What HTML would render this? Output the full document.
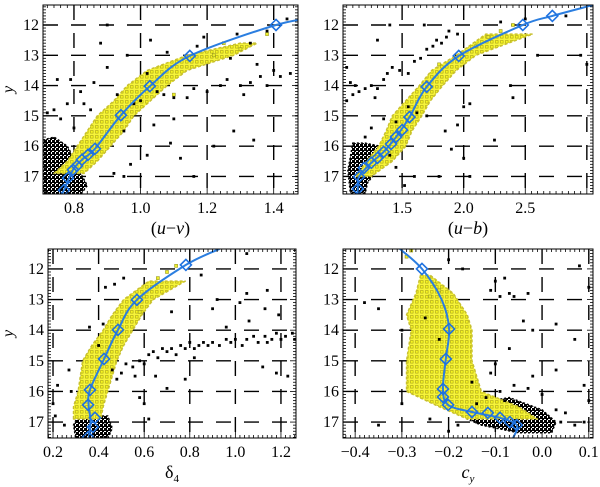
<!DOCTYPE html>
<html><head><meta charset="utf-8"><style>
html,body{margin:0;padding:0;background:#fff;}
svg{display:block;}
text{font-family:"Liberation Serif",serif;}
</style></head><body>
<svg id="chart" width="600" height="487" viewBox="0 0 600 487" xmlns="http://www.w3.org/2000/svg">
<defs>
<pattern id="yelPat" width="5" height="5" patternUnits="userSpaceOnUse">
<rect x="0" y="0" width="5" height="5" fill="#f6f43a"/>
<rect x="0.5" y="0.5" width="2.6" height="2.6" fill="#f8f820" stroke="#a8a018" stroke-width="0.6"/>
</pattern>
<pattern id="blkPat" width="4" height="4" patternUnits="userSpaceOnUse">
<rect x="0" y="0" width="4" height="4" fill="#fff"/>
<rect x="0" y="0" width="3" height="3" fill="#000"/>
<rect x="2" y="2" width="2.2" height="2.2" fill="#000"/>
</pattern>
</defs>
</svg>
<script>
// ---------- DATA ----------
// Panel 1: (u-v)
const p1DiamondX=[1.407,1.148,1.028,0.941,0.863,0.842,0.824,0.809,0.797,0.782,0.770];
const p1DiamondY=[12.0,13.02,14.02,14.98,16.09,16.29,16.45,16.65,16.78,17.05,17.45];
const p1CurveX=[1.53,1.407,1.148,1.028,0.941,0.863,0.824,0.797,0.770,0.762];
const p1CurveY=[11.75,12.0,13.02,14.02,14.98,16.09,16.45,16.78,17.45,17.6];
const p1BandM=[16.9,16.5,16,15.5,15,14.5,14,13.5,13,12.6];
const p1BandL=[0.74,0.78,0.81,0.84,0.87,0.92,0.96,1.02,1.14,1.30];
const p1BandR=[0.83,0.87,0.91,0.95,0.98,1.03,1.08,1.14,1.28,1.35];
const p1BlobX=[0.707,0.74,0.78,0.80,0.82,0.84,0.82,0.707];
const p1BlobY=[15.8,15.7,16.0,16.4,16.9,17.3,17.6,17.6];
const p1BlackX=[0.75,0.79,0.85,0.83,0.78,0.72,0.74,0.88,0.90,0.96,0.90,0.86,0.93,0.98,1.00,1.05,1.07,1.10,1.14,1.16,1.20,1.24,1.26,1.30,1.33,1.36,1.38,1.42,1.45,1.48,1.50,1.40,1.35,1.27,1.28,1.34,1.12,1.16,1.09,1.04,1.02,0.95,0.97,1.17,1.19,1.08,1.02,1.03,1.44,1.38,1.33,1.29,0.82,0.76,0.80,0.92,1.22,1.10,0.95,1.31];
const p1BlackY=[13.8,13.8,14.8,14.6,14.6,14.9,14.8,12.6,12.0,13.0,13.4,13.9,14.3,14.6,14.5,14.2,14.3,14.4,14.4,14.1,14.2,14.0,13.8,14.0,13.9,13.7,14.0,13.7,13.6,13.7,13.5,13.5,13.3,13.1,15.5,15.8,16.4,17.0,15.9,15.3,16.3,17.0,16.6,12.7,12.4,12.9,13.6,12.5,11.8,12.2,12.6,12.3,14.2,15.1,15.4,16.9,16.0,15.1,15.5,14.3];
const p1YellowX=[1.38,1.48,1.25,1.22,1.30,1.10];
const p1YellowY=[12.3,12.0,12.6,13.0,12.8,14.3];

// Panel 2: (u-b)
const p2DiamondX=[2.72,2.48,1.96,1.70,1.56,1.50,1.45,1.41,1.35,1.30,1.25,1.19,1.15,1.14];
const p2DiamondY=[11.70,12.0,13.02,14.04,15.04,15.47,15.70,15.93,16.19,16.39,16.55,16.72,17.01,17.41];
const p2CurveX=[3.06,2.72,2.48,1.96,1.70,1.56,1.45,1.35,1.25,1.15,1.14,1.14];
const p2CurveY=[11.33,11.70,12.0,13.02,14.04,15.04,15.70,16.19,16.55,17.01,17.41,17.6];
const p2BandM=[17,16.5,16,15.5,15,14.5,14,13.5,13,12.3];
const p2BandL=[1.13,1.21,1.31,1.37,1.42,1.53,1.64,1.74,1.94,2.18];
const p2BandR=[1.25,1.42,1.53,1.58,1.66,1.73,1.83,1.94,2.10,2.56];
const p2BlobX=[1.10,1.20,1.32,1.38,1.30,1.22,1.20,1.08,1.06];
const p2BlobY=[15.9,15.9,16.0,16.4,16.8,17.2,17.55,17.55,16.8];
const p2BlackX=[1.05,1.08,1.12,1.05,1.10,1.15,1.2,1.25,1.3,1.28,1.35,1.38,1.42,1.48,1.55,1.6,1.65,1.7,1.75,1.78,1.82,1.86,1.88,1.95,1.4,1.3,1.68,2.3,2.5,2.83,2.6,2.95,3.0,2.38,2.4,2.0,2.05,1.95,1.85,1.7,1.55,1.62,1.45,1.35,1.9,2.0,2.25,2.05,1.52,1.6,1.45,1.8,1.4,1.25,1.2];
const p2BlackY=[13.4,13.9,14.0,14.5,14.3,14.2,14.1,14.0,14.1,14.4,13.8,13.6,13.4,13.5,13.6,13.2,13.1,12.8,12.7,12.5,12.6,12.4,12.2,12.3,12.0,12.5,12.0,11.9,11.8,11.7,13.0,13.0,13.3,14.0,14.4,14.7,14.6,15.3,15.5,15.0,14.7,14.9,15.2,15.1,16.1,16.4,15.8,17.0,17.3,17.0,16.7,17.0,16.3,15.4,15.7];
const p2YellowX=[2.3,2.2,2.1,2.4,1.8];
const p2YellowY=[12.2,12.4,12.7,12.0,13.3];

// Panel 3: delta4
const p3DiamondX=[0.783,0.568,0.485,0.424,0.362,0.354,0.384,0.375,0.354];
const p3DiamondY=[11.87,13.01,13.99,14.94,15.95,16.44,16.86,17.16,17.49];
const p3CurveX=[0.93,0.783,0.568,0.485,0.424,0.362,0.356,0.365,0.355];
const p3CurveY=[11.35,11.87,13.01,13.99,14.94,15.95,16.44,17.0,17.6];
const p3BandM=[16.9,16.5,16,15.5,15,14.5,14,13.5,13,12.4];
const p3BandL=[0.29,0.29,0.31,0.32,0.33,0.37,0.42,0.46,0.51,0.62];
const p3BandR=[0.41,0.42,0.44,0.46,0.48,0.51,0.55,0.59,0.64,0.78];
const p3BlobX=[0.31,0.44,0.46,0.44,0.30,0.29];
const p3BlobY=[16.8,16.8,17.2,17.55,17.55,17.1];
const p3BlackX=[0.48,0.52,0.55,0.58,0.60,0.62,0.64,0.66,0.68,0.70,0.72,0.74,0.76,0.78,0.80,0.82,0.84,0.86,0.88,0.90,0.93,0.96,0.98,1.00,1.03,1.05,1.08,1.10,1.13,1.16,1.18,1.20,1.22,1.25,1.26,1.14,0.50,0.46,0.56,0.62,0.60,0.70,0.78,0.82,1.12,1.18,1.23,1.14,1.05,1.02,1.06,1.13,1.19,0.90,0.96,0.92,0.85,1.05,0.72,0.42,0.36,0.27,0.22,0.20,0.21,0.25,0.28,0.40,0.43,0.47,0.51,0.58,0.43,0.65];
const p3BlackY=[15.6,15.1,15.2,15.0,15.1,14.8,14.7,14.9,14.6,14.7,14.6,14.8,14.5,14.6,14.4,14.6,14.5,14.4,14.5,14.4,14.5,14.3,14.4,14.3,14.5,14.3,14.2,14.4,14.2,14.3,14.1,14.3,14.2,14.1,14.3,14.4,15.4,15.3,15.5,16.9,16.4,15.9,15.6,14.9,15.2,15.4,15.5,12.7,12.8,13.1,13.7,13.3,13.5,13.3,13.9,13.0,12.2,11.5,13.4,13.8,13.9,15.3,15.8,16.4,16.8,17.1,16.0,14.5,12.6,12.5,12.3,16.2,17.1,15.5];
const p3YellowX=[0.70,0.66,0.74,0.60,0.58];
const p3YellowY=[12.1,12.3,11.9,12.9,13.4];

// Panel 4: c_y
const p4DiamondX=[-0.257,-0.199,-0.206,-0.212,-0.212,-0.201,-0.150,-0.116,-0.090,-0.069,-0.054];
const p4DiamondY=[12.0,13.96,14.94,15.92,16.18,16.44,16.67,16.70,16.86,17.0,17.10];
const p4CurveX=[-0.304,-0.257,-0.215,-0.199,-0.206,-0.212,-0.201,-0.150,-0.090,-0.054,-0.062];
const p4CurveY=[11.35,12.0,13.0,13.96,14.94,15.92,16.44,16.67,16.86,17.10,17.52];
const p4BandM=[12.2,12.8,13.5,14,15,16,16.5,16.9];
const p4BandL=[-0.26,-0.27,-0.29,-0.28,-0.29,-0.29,-0.22,-0.16];
const p4BandR=[-0.24,-0.19,-0.16,-0.15,-0.15,-0.13,-0.05,-0.01];
const p4BlobX=[-0.14,-0.07,0.0,0.03,0.02,-0.05,-0.13,-0.16];
const p4BlobY=[16.4,16.2,16.6,17.0,17.35,17.35,17.1,16.9];
const p4BlackX=[-0.38,-0.35,-0.35,-0.30,-0.30,-0.24,-0.20,-0.18,-0.14,-0.11,-0.10,-0.09,-0.07,-0.06,-0.03,-0.08,-0.17,-0.20,-0.25,-0.22,-0.10,-0.11,-0.09,-0.06,-0.03,-0.02,0.0,0.03,0.05,0.04,0.07,0.09,0.02,0.08,0.10,0.09,0.10,0.03,-0.04,-0.02,0.07,-0.07,0.03,-0.14,-0.12,-0.08,-0.15];
const p4BlackY=[13.1,13.3,17.1,16.4,14.0,16.9,17.3,17.1,17.0,12.7,12.4,12.9,12.8,12.9,12.8,12.3,12.0,11.7,13.6,14.3,15.1,15.4,16.0,15.8,15.9,15.5,16.1,16.6,16.7,17.0,17.1,17.0,17.3,11.9,12.6,15.8,16.3,15.3,13.7,14.0,14.3,14.6,13.8,16.4,16.2,16.3,15.7];
const p4YellowX=[-0.28,-0.29,-0.23,-0.22,-0.24];
const p4YellowY=[11.4,11.6,12.5,12.7,12.9];

const yTicks=[12,13,14,15,16,17];
const p1XTicks=[0.8,1.0,1.2,1.4];
const p2XTicks=[1.5,2.0,2.5,3.0];
const p3XTicks=[0.2,0.4,0.6,0.8,1.0,1.2];
const p4XTicks=[-0.4,-0.3,-0.2,-0.1,0.0,0.1];
const p1XLabels=["0.8","1.0","1.2","1.4"];
const p2XLabels=["1.5","2.0","2.5",""];
const p3XLabels=["0.2","0.4","0.6","0.8","1.0","1.2"];
const p4XLabels=["\u22120.4","\u22120.3","\u22120.2","\u22120.1","0.0","0.1"];

// ---------- RENDER ----------
const NS="http://www.w3.org/2000/svg";
const svg=document.getElementById('chart');
const FONT='"Liberation Serif", "DejaVu Serif", serif';
function mk(tag,attrs,parent){const e=document.createElementNS(NS,tag);for(const k in attrs)e.setAttribute(k,attrs[k]);(parent||svg).appendChild(e);return e;}

const panels=[
 {name:'uv',box:[43,5,298,194],xr:[0.707,1.473],yr:[11.34,17.58],dx:p1DiamondX,dy:p1DiamondY,cx:p1CurveX,cy:p1CurveY,bm:p1BandM,bl:p1BandL,br:p1BandR,blx:p1BlobX,bly:p1BlobY,kx:p1BlackX,ky:p1BlackY,yx:p1YellowX,yy:p1YellowY,xt:p1XTicks,xl:p1XLabels,minor:0.02,ylab:true,title:'(<tspan font-style="italic">u</tspan>\u2212<tspan font-style="italic">v</tspan>)'},
 {name:'ub',box:[343,5,593,194],xr:[1.02,3.05],yr:[11.34,17.58],dx:p2DiamondX,dy:p2DiamondY,cx:p2CurveX,cy:p2CurveY,bm:p2BandM,bl:p2BandL,br:p2BandR,blx:p2BlobX,bly:p2BlobY,kx:p2BlackX,ky:p2BlackY,yx:p2YellowX,yy:p2YellowY,xt:p2XTicks,xl:p2XLabels,minor:0.05,ylab:false,title:'(<tspan font-style="italic">u</tspan>\u2212<tspan font-style="italic">b</tspan>)'},
 {name:'delta4',box:[48,249,296,438],xr:[0.178,1.266],yr:[11.35,17.52],dx:p3DiamondX,dy:p3DiamondY,cx:p3CurveX,cy:p3CurveY,bm:p3BandM,bl:p3BandL,br:p3BandR,blx:p3BlobX,bly:p3BlobY,kx:p3BlackX,ky:p3BlackY,yx:p3YellowX,yy:p3YellowY,xt:p3XTicks,xl:p3XLabels,minor:0.02,ylab:true,title:'\u03B4<tspan font-size="11" dy="4">4</tspan>'},
 {name:'cy',box:[343,249,593,438],xr:[-0.426,0.109],yr:[11.35,17.52],dx:p4DiamondX,dy:p4DiamondY,cx:p4CurveX,cy:p4CurveY,bm:p4BandM,bl:p4BandL,br:p4BandR,blx:p4BlobX,bly:p4BlobY,kx:p4BlackX,ky:p4BlackY,yx:p4YellowX,yy:p4YellowY,xt:p4XTicks,xl:p4XLabels,minor:0.01,ylab:false,title:'<tspan font-style="italic">c</tspan><tspan font-size="11" dy="4" font-style="italic">y</tspan>'}
];

function smoothPath(pts){
 let d='M'+pts[0][0].toFixed(1)+','+pts[0][1].toFixed(1);
 for(let i=0;i<pts.length-1;i++){
  const p0=pts[Math.max(0,i-1)],p1=pts[i],p2=pts[i+1],p3=pts[Math.min(pts.length-1,i+2)];
  const c1=[p1[0]+(p2[0]-p0[0])/6,p1[1]+(p2[1]-p0[1])/6];
  const c2=[p2[0]-(p3[0]-p1[0])/6,p2[1]-(p3[1]-p1[1])/6];
  d+=' C'+c1[0].toFixed(1)+','+c1[1].toFixed(1)+' '+c2[0].toFixed(1)+','+c2[1].toFixed(1)+' '+p2[0].toFixed(1)+','+p2[1].toFixed(1);
 }
 return d;
}

panels.forEach((P,pi)=>{
 const [x0,y0,x1,y1]=P.box;
 const X=v=>x0+(v-P.xr[0])/(P.xr[1]-P.xr[0])*(x1-x0);
 const Y=m=>y0+(m-P.yr[0])/(P.yr[1]-P.yr[0])*(y1-y0);
 const g=mk('g',{});
 
 
 const cid='clip'+pi;
 const cp=mk('clipPath',{id:cid},g);
 mk('rect',{x:x0,y:y0,width:x1-x0,height:y1-y0},cp);
 const plot=mk('g',{'clip-path':'url(#'+cid+')'},g);
 const grid=mk('g',{stroke:'#000','stroke-width':1.4,'stroke-dasharray':'15,13'},plot);
 
 
 yTicks.forEach(t=>{mk('line',{x1:x0,x2:x1,y1:Y(t),y2:Y(t)},grid);});
 P.xt.forEach(t=>{mk('line',{x1:X(t),x2:X(t),y1:y0,y2:y1},grid);});
 const blob=mk('polygon',{points:P.blx.map((v,i)=>X(v)+','+Y(P.bly[i])).join(' '),fill:'url(#blkPat)',stroke:'#000','stroke-width':1.5,'stroke-dasharray':'2,2'},plot);
 
 
 const pts=P.bm.map((m,i)=>X(P.bl[i])+','+Y(m)).concat(P.bm.map((m,i)=>X(P.br[i])+','+Y(m)).reverse());
 const band=mk('polygon',{points:pts.join(' '),fill:'url(#yelPat)',stroke:'#c8c030','stroke-width':1.5,'stroke-dasharray':'3,2','stroke-linejoin':'round'},plot);
 
 
 P.yx.forEach((v,i)=>{
  const r=mk('rect',{x:X(v)-1.5,y:Y(P.yy[i])-1.5,width:3,height:3,fill:'#eeee2a',stroke:'#999920','stroke-width':0.6},plot);
  
  
 });
 P.kx.forEach((v,i)=>{
  const r=mk('rect',{x:X(v)-1.4,y:Y(P.ky[i])-1.4,width:2.8,height:2.8,fill:'#000'},plot);
  
  
 });
 const c=mk('path',{d:smoothPath(P.cx.map((v,i)=>[X(v),Y(P.cy[i])])),fill:'none',stroke:'#2b7ee0','stroke-width':2},plot);
 
 
 P.dx.forEach((v,i)=>{
  const px=X(v),py=Y(P.dy[i]),s=5.5;
  const d=mk('polygon',{points:`${px},${py-s} ${px+s},${py} ${px},${py+s} ${px-s},${py}`,fill:'none',stroke:'#1f72e0','stroke-width':1.6},plot);
  
  
 });
 const fr=mk('rect',{x:x0,y:y0,width:x1-x0,height:y1-y0,fill:'none',stroke:'#000','stroke-width':1},g);
 
 
 const tk=mk('g',{stroke:'#000','stroke-width':0.8},g);
 for(let m=11.4;m<=17.6;m+=0.1){const yy=Y(m);if(yy<y0||yy>y1)continue;const major=Math.abs(m-Math.round(m))<0.01;const L=major?6:3;
  mk('line',{x1:x0,x2:x0+L,y1:yy,y2:yy},tk);mk('line',{x1:x1,x2:x1-L,y1:yy,y2:yy},tk);}
 const step=P.minor;
 for(let v=Math.ceil(P.xr[0]/step)*step;v<=P.xr[1];v+=step){const xx=X(v);
  const major=P.xt.some(t=>Math.abs(t-v)<step/3);const L=major?6:3;
  mk('line',{x1:xx,x2:xx,y1:y1,y2:y1-L},tk);mk('line',{x1:xx,x2:xx,y1:y0,y2:y0+L},tk);}
 yTicks.forEach(t=>{
  const e=mk('text',{x:x0-4,y:Y(t)+5,'text-anchor':'end','font-size':16,'font-family':FONT,fill:'#000'},g);
  e.textContent=String(t);
  
  
 });
 P.xt.forEach((t,i)=>{
  const e=mk('text',{x:X(t),y:y1+19,'text-anchor':'middle','font-size':16,'font-family':FONT,fill:'#000'},g);
  e.textContent=P.xl[i];
  
  
 });
 const xt=mk('text',{x:(x0+x1)/2,y:y1+40,'text-anchor':'middle','font-size':18,'font-family':FONT,fill:'#000'},g);
 xt.innerHTML=P.title;
 
 
 if(P.ylab){
  const yt=mk('text',{x:0,y:0,'text-anchor':'middle','font-size':16,'font-style':'italic','font-family':FONT,fill:'#000',transform:`translate(13,${(y0+y1)/2-10}) rotate(-90)`},g);
  yt.textContent='y';
  
  
 }
});
</script>
</body></html>
